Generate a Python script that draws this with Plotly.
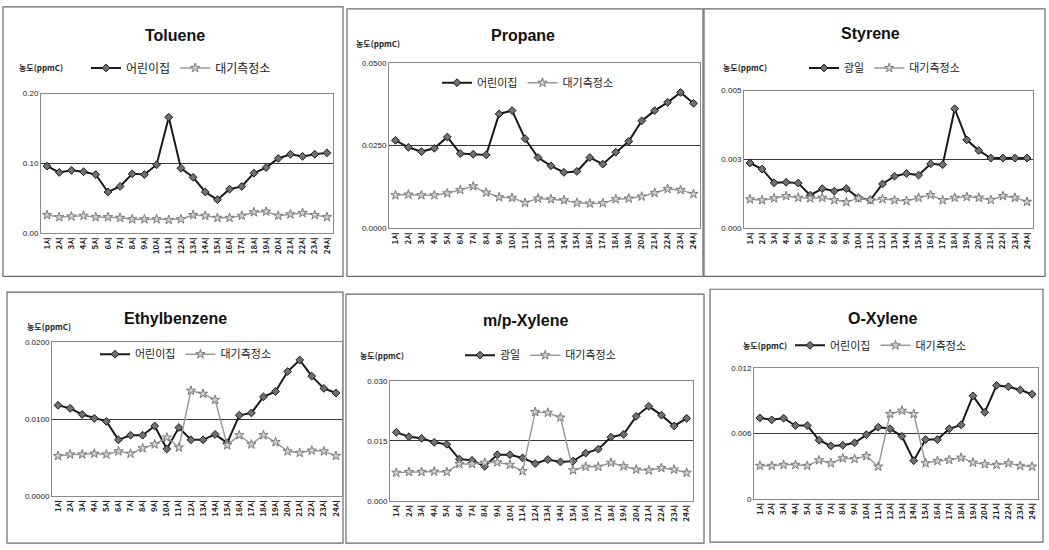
import plotly.graph_objects as go

W, H = 1049, 550

hours = [f"{h}시" for h in range(1, 25)]

# Hourly concentrations (ppmC): indoor site vs. air monitoring station
toluene_daycare = [0.096, 0.087, 0.090, 0.088, 0.084, 0.059, 0.067, 0.085, 0.084, 0.098, 0.166, 0.093,
                   0.080, 0.059, 0.048, 0.063, 0.067, 0.086, 0.094, 0.107, 0.113, 0.110, 0.113, 0.115]
toluene_station = [0.026, 0.023, 0.024, 0.025, 0.023, 0.023, 0.022, 0.020, 0.020, 0.020, 0.019, 0.020,
                   0.026, 0.025, 0.022, 0.022, 0.025, 0.030, 0.031, 0.025, 0.027, 0.029, 0.026, 0.023]

propane_daycare = [0.0266, 0.0245, 0.0232, 0.0242, 0.0276, 0.0226, 0.0224, 0.0222, 0.0346, 0.0356, 0.0271, 0.0214,
                   0.0189, 0.0169, 0.0172, 0.0214, 0.0194, 0.0230, 0.0263, 0.0325, 0.0356, 0.0381, 0.0411, 0.0378]
propane_station = [0.0100, 0.0102, 0.0100, 0.0100, 0.0106, 0.0116, 0.0127, 0.0108, 0.0094, 0.0092, 0.0077, 0.0090,
                   0.0088, 0.0085, 0.0077, 0.0075, 0.0076, 0.0088, 0.0090, 0.0096, 0.0107, 0.0119, 0.0116, 0.0104]

styrene_site = [0.00237, 0.00215, 0.00165, 0.00167, 0.00164, 0.00120, 0.00144, 0.00135, 0.00144, 0.00111, 0.00103, 0.00161,
                0.00189, 0.00199, 0.00193, 0.00234, 0.00231, 0.00434, 0.00321, 0.00282, 0.00255, 0.00255, 0.00255, 0.00255]
styrene_station = [0.00105, 0.00102, 0.00109, 0.00117, 0.00111, 0.00109, 0.00111, 0.00102, 0.00095, 0.00109, 0.00102, 0.00106,
                   0.00102, 0.00099, 0.00111, 0.00121, 0.00102, 0.00111, 0.00114, 0.00111, 0.00103, 0.00117, 0.00111, 0.00096]

ethylbenzene_daycare = [0.0118, 0.0114, 0.0106, 0.0101, 0.0097, 0.0073, 0.0079, 0.0079, 0.0091, 0.0061, 0.0089, 0.0073,
                        0.0073, 0.0080, 0.0069, 0.0105, 0.0108, 0.0129, 0.0136, 0.0162, 0.0177, 0.0156, 0.0140, 0.0134]
ethylbenzene_station = [0.0052, 0.0054, 0.0054, 0.0055, 0.0054, 0.0058, 0.0055, 0.0062, 0.0067, 0.0076, 0.0063, 0.0137,
                        0.0133, 0.0125, 0.0066, 0.0079, 0.0067, 0.0079, 0.0070, 0.0058, 0.0056, 0.0059, 0.0058, 0.0052]

mpxylene_site = [0.0171, 0.0160, 0.0156, 0.0146, 0.0141, 0.0104, 0.0101, 0.0086, 0.0115, 0.0115, 0.0107, 0.0093,
                 0.0103, 0.0097, 0.0099, 0.0119, 0.0129, 0.0159, 0.0166, 0.0211, 0.0236, 0.0214, 0.0187, 0.0206]
mpxylene_station = [0.0070, 0.0072, 0.0072, 0.0073, 0.0072, 0.0092, 0.0092, 0.0095, 0.0096, 0.0090, 0.0074, 0.0222,
                    0.0220, 0.0208, 0.0076, 0.0085, 0.0085, 0.0095, 0.0086, 0.0078, 0.0076, 0.0082, 0.0078, 0.0070]

oxylene_daycare = [0.00742, 0.00724, 0.00739, 0.00672, 0.00672, 0.00537, 0.00485, 0.00491, 0.00513, 0.00588, 0.00657, 0.00642,
                   0.00573, 0.00350, 0.00543, 0.00543, 0.00642, 0.00678, 0.00944, 0.00793, 0.01040, 0.01028, 0.00998, 0.00959]
oxylene_station = [0.00302, 0.00302, 0.00311, 0.00311, 0.00302, 0.00353, 0.00326, 0.00371, 0.00365, 0.00392, 0.00295, 0.00778,
                   0.00808, 0.00778, 0.00326, 0.00347, 0.00356, 0.00377, 0.00332, 0.00317, 0.00311, 0.00326, 0.00302, 0.00295]

# Panel definitions: series + y tick setup
panels = [
    dict(title="Toluene", names=("어린이집", "대기측정소"), s1=toluene_daycare, s2=toluene_station,
         tickvals=[0, 0.10, 0.20], ticktext=["0.00", "0.10", "0.20"]),
    dict(title="Propane", names=("어린이집", "대기측정소"), s1=propane_daycare, s2=propane_station,
         tickvals=[0, 0.025, 0.05], ticktext=["0.0000", "0.0250", "0.0500"]),
    dict(title="Styrene", names=("광일", "대기측정소"), s1=styrene_site, s2=styrene_station,
         tickvals=[0, 0.0025, 0.005], ticktext=["0.000", "0.003", "0.005"]),
    dict(title="Ethylbenzene", names=("어린이집", "대기측정소"), s1=ethylbenzene_daycare, s2=ethylbenzene_station,
         tickvals=[0, 0.01, 0.02], ticktext=["0.0000", "0.0100", "0.0200"]),
    dict(title="m/p-Xylene", names=("광일", "대기측정소"), s1=mpxylene_site, s2=mpxylene_station,
         tickvals=[0, 0.015, 0.03], ticktext=["0.000", "0.015", "0.030"]),
    dict(title="O-Xylene", names=("어린이집", "대기측정소"), s1=oxylene_daycare, s2=oxylene_station,
         tickvals=[0, 0.006, 0.012], ticktext=["0", "0.006", "0.012"]),
]

# Pixel layout of each panel: outer frame, plot area, title, y-label, legend anchor, legend font size
geom = [
    dict(frame=(3, 3, 343, 277), plot=(41, 91, 333, 233), title=(175, 32), ylab=(41, 65), leg=(86, 65), lfs=12),
    dict(frame=(347, 5, 703, 277), plot=(389, 60, 700, 228), title=(523, 32), ylab=(378, 40), leg=(437, 80), lfs=11),
    dict(frame=(704, 5, 1045, 277), plot=(744, 88, 1033, 228), title=(870, 30), ylab=(745, 65), leg=(804, 65), lfs=11),
    dict(frame=(7, 293, 343, 548), plot=(52, 344, 342, 500), title=(175, 320), ylab=(49, 328), leg=(95, 356), lfs=11),
    dict(frame=(346, 295, 704, 548), plot=(390, 383, 693, 505), title=(525, 322), ylab=(382, 357), leg=(460, 357), lfs=11),
    dict(frame=(710, 290, 1043, 547), plot=(754, 370, 1038, 503), title=(882, 320), ylab=(765, 347), leg=(790, 347), lfs=11),
]


def fx(px):
    return px / W


def fy(py):
    return 1 - py / H


fig = go.Figure()
layout = dict(
    width=W, height=H, margin=dict(l=0, r=0, t=0, b=0),
    paper_bgcolor="white", plot_bgcolor="white",
    font=dict(family="Noto Sans CJK KR, Liberation Sans, sans-serif", color="#222"),
    shapes=[], annotations=[],
)

for i, (p, g) in enumerate(zip(panels, geom), start=1):
    sfx = "" if i == 1 else str(i)
    leg = "legend" if i == 1 else f"legend{i}"
    fig.add_trace(go.Scatter(
        x=hours, y=p["s1"], name=p["names"][0], mode="lines+markers",
        xaxis="x" + sfx, yaxis="y" + sfx, legend=leg,
        line=dict(color="#1a1a1a", width=2),
        marker=dict(symbol="diamond", size=6, color="#707070", line=dict(color="#1a1a1a", width=1)),
    ))
    fig.add_trace(go.Scatter(
        x=hours, y=p["s2"], name=p["names"][1], mode="lines+markers",
        xaxis="x" + sfx, yaxis="y" + sfx, legend=leg,
        line=dict(color="#9a9a9a", width=1.5),
        marker=dict(symbol="star", size=7, color="#d0d0d0", line=dict(color="#7a7a7a", width=1)),
    ))

    x0, y0, x1, y1 = g["plot"]
    top = p["tickvals"][-1]
    layout["xaxis" + sfx] = dict(
        domain=[fx(x0), fx(x1)], anchor="y" + sfx, type="category", range=[-0.5, 23.5],
        tickvals=hours, ticktext=[f"<b>{h}</b>" for h in hours],
        showgrid=False, showline=True, mirror=True, linecolor="#8a8a8a", linewidth=1,
        tickangle=-90, ticks="", tickfont=dict(size=8, color="#222", family="Noto Sans CJK KR"),
        fixedrange=True,
    )
    layout["yaxis" + sfx] = dict(
        domain=[fy(y1), fy(y0)], anchor="x" + sfx, range=[0, top],
        tickvals=p["tickvals"], ticktext=p["ticktext"],
        showgrid=True, gridcolor="#3a3a3a", gridwidth=1,
        showline=True, mirror=True, linecolor="#8a8a8a", linewidth=1, zeroline=False,
        ticks="", tickfont=dict(size=8, color="#222", family="Liberation Sans"),
        fixedrange=True,
    )
    layout[leg] = dict(
        x=fx(g["leg"][0]), y=fy(g["leg"][1]), xanchor="left", yanchor="middle",
        orientation="h", bgcolor="rgba(0,0,0,0)", itemwidth=30, traceorder="normal",
        font=dict(size=g["lfs"], color="#222", family="Noto Sans CJK KR"),
    )

    fx0, fy0, fx1, fy1 = g["frame"]
    layout["shapes"].append(dict(
        type="rect", xref="paper", yref="paper",
        x0=fx(fx0), x1=fx(fx1), y0=fy(fy1), y1=fy(fy0),
        line=dict(color="#6a6a6a", width=1.2), fillcolor="rgba(0,0,0,0)", layer="below",
    ))
    layout["annotations"].append(dict(
        text=f"<b>{p['title']}</b>", x=fx(g["title"][0]), y=fy(g["title"][1]),
        xref="paper", yref="paper", xanchor="center", yanchor="middle", showarrow=False,
        font=dict(size=16, color="#111", family="Liberation Sans"),
    ))
    layout["annotations"].append(dict(
        text="<b>농도(ppmC)</b>", x=fx(g["ylab"][0]), y=fy(g["ylab"][1]),
        xref="paper", yref="paper", xanchor="center", yanchor="middle", showarrow=False,
        font=dict(size=8, color="#222", family="Noto Sans CJK KR"),
    ))

fig.update_layout(**layout)
fig.write_html("out.html")
